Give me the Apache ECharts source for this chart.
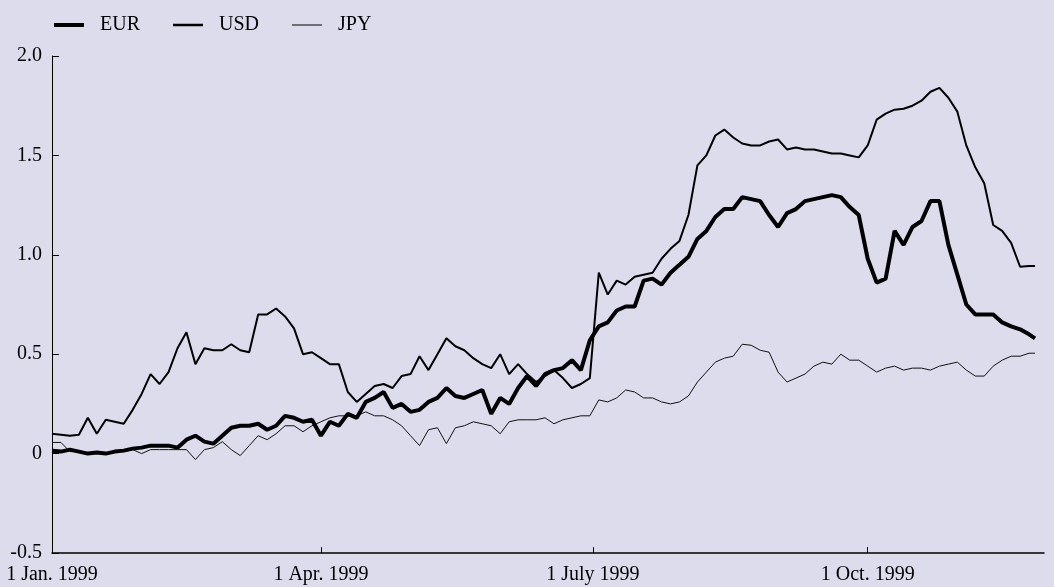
<!DOCTYPE html>
<html>
<head>
<meta charset="utf-8">
<script src="https://cdn.jsdelivr.net/npm/echarts@6/dist/echarts.min.js"></script>
<style>
  html, body { margin: 0; padding: 0; background: #dcdcec; }
  #chart { width: 1054px; height: 587px; }
</style>
</head>
<body>
<div id="chart"></div>
<script>
// days since 1 Jan. 1999
var days = [0, 3, 6, 9, 12, 15, 18, 21, 24, 27, 30, 33, 36, 39, 42, 45, 48, 51, 54, 57,
  60, 63, 66, 69, 72, 75, 78, 81, 84, 87, 90, 93, 96, 99, 102, 105, 108, 111, 114, 117,
  120, 123, 126, 129, 132, 135, 138, 141, 144, 147, 150, 153, 156, 159, 162, 165, 168, 171, 174, 177,
  180, 183, 186, 189, 192, 195, 198, 201, 204, 207, 210, 213, 216, 219, 222, 225, 228, 231, 234, 237,
  240, 243, 246, 249, 252, 255, 258, 261, 264, 267, 270, 273, 276, 279, 282, 285, 288, 291, 294, 297,
  300, 303, 306, 309, 312, 315, 318, 321, 324, 327, 329]

var eur = [0.014, 0.01, 0.02, 0.01, 0.0, 0.005, 0.0, 0.01, 0.015, 0.025,
  0.03, 0.04, 0.04, 0.04, 0.03, 0.07, 0.09, 0.06, 0.05, 0.09,
  0.13, 0.14, 0.14, 0.15, 0.12, 0.14, 0.19, 0.18, 0.16, 0.17,
  0.09, 0.16, 0.14, 0.20, 0.18, 0.26, 0.28, 0.31, 0.23, 0.25,
  0.21, 0.22, 0.26, 0.28, 0.33, 0.29, 0.28, 0.30, 0.32, 0.20,
  0.28, 0.25, 0.33, 0.39, 0.34, 0.40, 0.42, 0.43, 0.47, 0.42,
  0.57, 0.64, 0.66, 0.72, 0.74, 0.74, 0.87, 0.88, 0.85, 0.91,
  0.95, 0.99, 1.08, 1.12, 1.19, 1.23, 1.23, 1.29, 1.28, 1.27,
  1.20, 1.14, 1.21, 1.23, 1.27, 1.28, 1.29, 1.30, 1.29, 1.24,
  1.20, 0.98, 0.86, 0.88, 1.12, 1.05, 1.14, 1.17, 1.27, 1.27,
  1.05, 0.90, 0.75, 0.70, 0.70, 0.70, 0.66, 0.64, 0.625, 0.60, 0.58]

var usd = [0.10, 0.095, 0.09, 0.095, 0.18, 0.10, 0.17, 0.16, 0.15, 0.22,
  0.30, 0.40, 0.35, 0.41, 0.53, 0.61, 0.45, 0.53, 0.52, 0.52,
  0.55, 0.52, 0.51, 0.70, 0.70, 0.73, 0.69, 0.63, 0.50, 0.51,
  0.48, 0.45, 0.45, 0.31, 0.26, 0.30, 0.34, 0.35, 0.33, 0.39,
  0.40, 0.49, 0.42, 0.50, 0.58, 0.54, 0.52, 0.48, 0.45, 0.43,
  0.50, 0.40, 0.45, 0.40, 0.36, 0.39, 0.42, 0.38, 0.33, 0.35,
  0.38, 0.91, 0.80, 0.87, 0.85, 0.89, 0.90, 0.91, 0.98, 1.03,
  1.07, 1.20, 1.45, 1.50, 1.60, 1.63, 1.59, 1.56, 1.55, 1.55,
  1.57, 1.58, 1.53, 1.54, 1.53, 1.53, 1.52, 1.51, 1.51, 1.50,
  1.49, 1.55, 1.68, 1.71, 1.73, 1.735, 1.75, 1.775, 1.82, 1.84,
  1.79, 1.72, 1.55, 1.44, 1.36, 1.15, 1.12, 1.06, 0.94, 0.944, 0.944]

var jpy = [0.056, 0.056, 0.01, 0.01, 0.0, 0.01, 0.0, 0.01, 0.01, 0.02,
  0.0, 0.02, 0.02, 0.02, 0.02, 0.02, -0.03, 0.02, 0.03, 0.06,
  0.02, -0.01, 0.04, 0.09, 0.07, 0.10, 0.14, 0.14, 0.11, 0.14,
  0.16, 0.18, 0.19, 0.19, 0.19, 0.21, 0.19, 0.19, 0.17, 0.14,
  0.09, 0.04, 0.12, 0.13, 0.05, 0.13, 0.14, 0.16, 0.15, 0.14,
  0.10, 0.16, 0.17, 0.17, 0.17, 0.18, 0.15, 0.17, 0.18, 0.19,
  0.19, 0.27, 0.26, 0.28, 0.32, 0.31, 0.28, 0.28, 0.26, 0.25,
  0.26, 0.29, 0.36, 0.41, 0.46, 0.48, 0.49, 0.55, 0.545, 0.52,
  0.51, 0.41, 0.36, 0.38, 0.40, 0.44, 0.46, 0.45, 0.50, 0.47,
  0.47, 0.44, 0.41, 0.43, 0.44, 0.42, 0.43, 0.43, 0.42, 0.44,
  0.45, 0.46, 0.42, 0.39, 0.39, 0.44, 0.47, 0.49, 0.49, 0.505, 0.505]

// x axis tick positions (days) and labels
var tickDays = [0, 90, 181, 273]
var tickLabels = ['1 Jan. 1999', '1 Apr. 1999', '1 July 1999', '1 Oct. 1999']

var font = "'Liberation Serif', 'Times New Roman', serif"

function pairs(vals) {
  return days.map(function (d, i) { return [d, vals[i]] })
}

//one legend per series so each key line can have its own thickness
function legendFor(name, left, thick) {
  return {
    data: [name],
    left: left,
    top: 10,
    icon: 'rect',
    itemWidth: 30,
    itemHeight: thick,
    itemStyle: { color: '#000' },
    textStyle: { fontFamily: font, fontSize: 20, color: '#000', padding: [0, 0, 0, 11] }
  }
}

var myCharts = echarts.init(document.getElementById('chart'))

var option = {
  backgroundColor: '#dcdcec',
  animation: false,
  textStyle: { fontFamily: font, color: '#000' },
  legend: [
    legendFor('EUR', 49, 4),
    legendFor('USD', 168, 2.5),
    legendFor('JPY', 287, 1)
  ],
  grid: {
    left: 52,
    right: 10,
    top: 56,
    bottom: 34,
    containLabel: false
  },
  xAxis: {
    type: 'value',
    min: 0,
    max: 332,
    axisLine: { show: true, onZero: false, lineStyle: { color: '#000', width: 1.5 } },
    axisTick: { inside: true, length: 6, customValues: tickDays, lineStyle: { color: '#000' } },
    axisLabel: {
      customValues: tickDays,
      margin: 12,
      fontFamily: font,
      fontSize: 20,
      color: '#000',
      formatter: function (v) {
        var i = tickDays.indexOf(v)
        return i >= 0 ? tickLabels[i] : ''
      }
    },
    splitLine: { show: false }
  },
  yAxis: {
    type: 'value',
    min: -0.5,
    max: 2.0,
    interval: 0.5,
    axisLine: { show: true, lineStyle: { color: '#000', width: 1 } },
    axisTick: { show: true, inside: true, length: 7, lineStyle: { color: '#000' } },
    axisLabel: {
      margin: 10,
      fontFamily: font,
      fontSize: 20,
      color: '#000',
      formatter: function (v) { return v === 0 ? '0' : v.toFixed(1) }
    },
    splitLine: { show: false }
  },
  series: [
    {
      name: 'EUR',
      type: 'line',
      data: pairs(eur),
      symbol: 'none',
      lineStyle: { color: '#000', width: 4 },
      itemStyle: { color: '#000' },
      z: 3
    },
    {
      name: 'USD',
      type: 'line',
      data: pairs(usd),
      symbol: 'none',
      lineStyle: { color: '#000', width: 2 },
      itemStyle: { color: '#000' },
      z: 2
    },
    {
      name: 'JPY',
      type: 'line',
      data: pairs(jpy),
      symbol: 'none',
      lineStyle: { color: '#111', width: 1 },
      itemStyle: { color: '#111' },
      z: 1
    }
  ]
}

myCharts.setOption(option)

window.addEventListener('resize', function () {
  myCharts.resize()
})
</script>
</body>
</html>
